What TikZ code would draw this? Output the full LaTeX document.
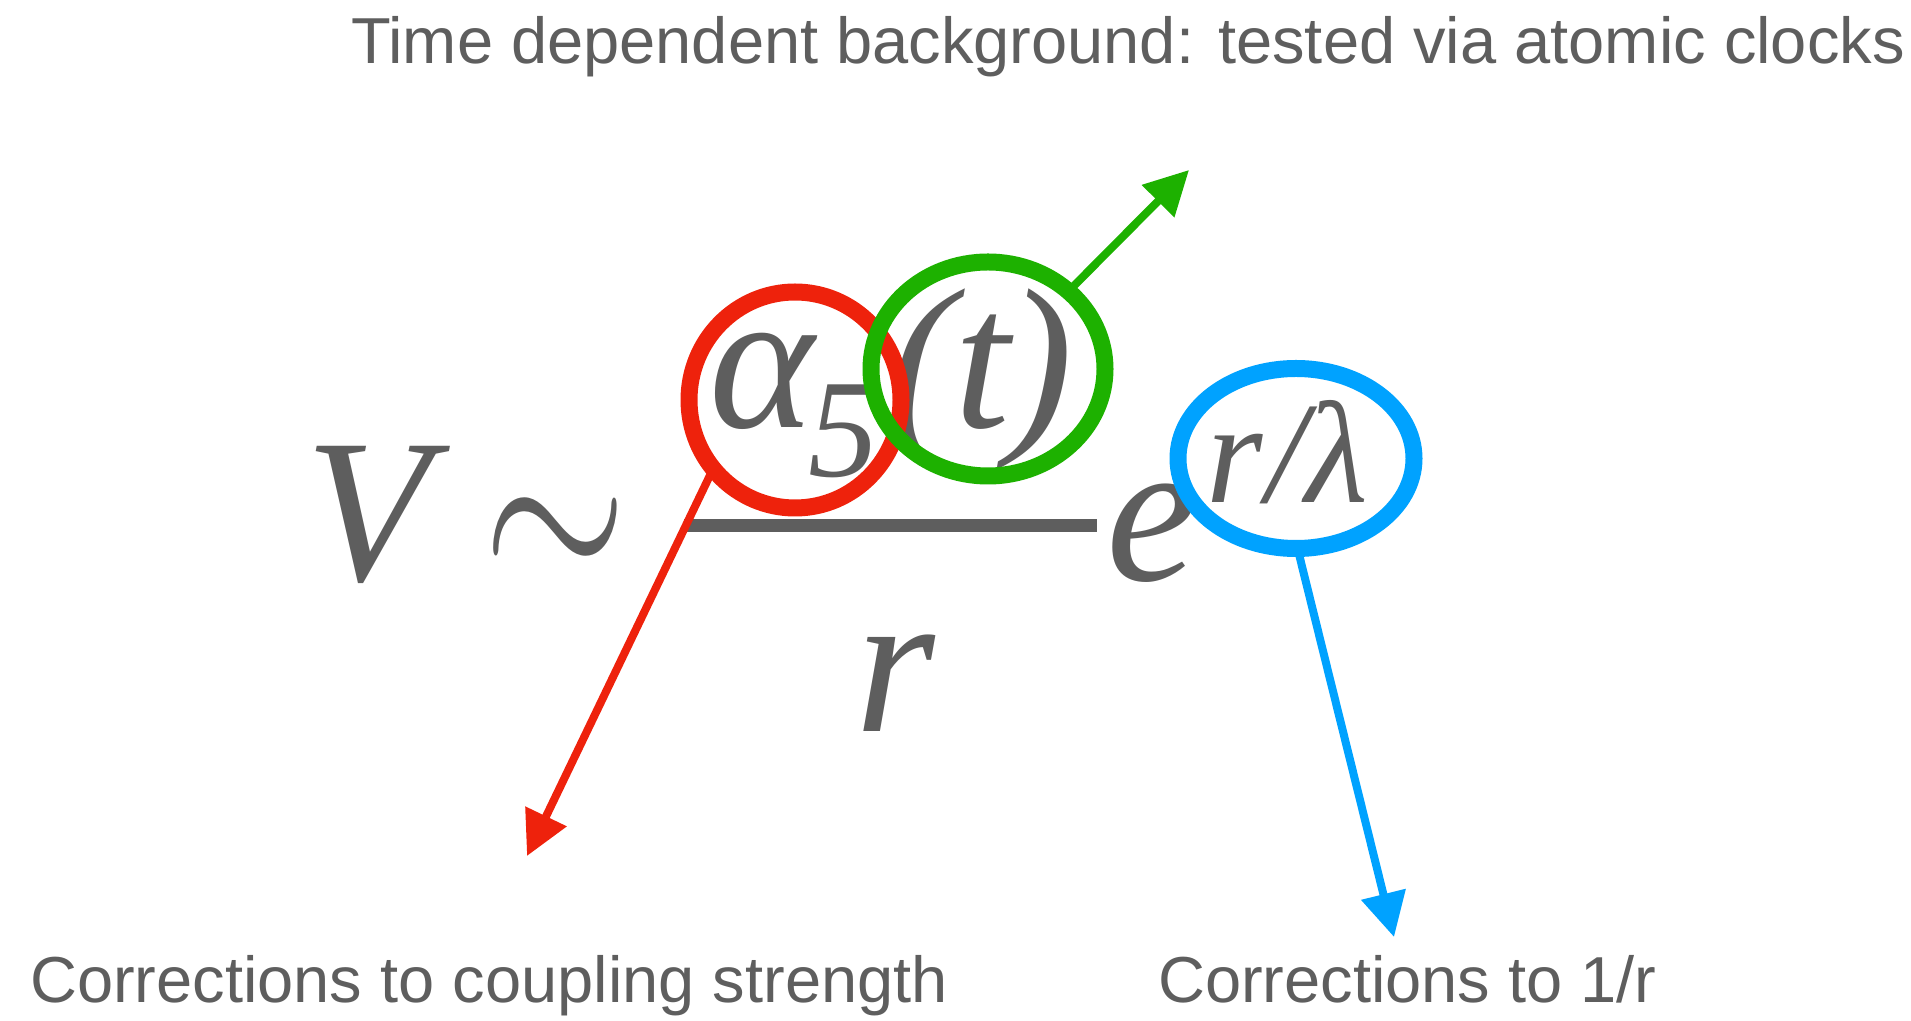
\documentclass[tikz,border=0pt]{standalone}
\usepackage{fontspec}
\usepackage{graphicx}
\setmainfont{Liberation Serif}
\newfontfamily\labelfont{Liberation Sans}
\usetikzlibrary{arrows.meta,shapes.geometric}
\definecolor{ink}{HTML}{5E5E5E}
\definecolor{ringred}{HTML}{EE220C}
\definecolor{ringgreen}{HTML}{1DB100}
\definecolor{ringblue}{HTML}{00A2FF}
\tikzset{
  glyph/.style={text=ink, inner sep=0pt, anchor=base, font=\itshape\fontsize{#1}{#1}\selectfont},
  caption/.style={text=ink, inner sep=0pt, anchor=base west, font=\labelfont\fontsize{65}{65}\selectfont},
  pointer/.style={draw=#1, line width=8pt, -{Triangle[length=44pt, width=44pt]}},
  hoop/.style={ellipse, inner sep=0pt, outer sep=0pt},
}
\begin{document}
\begin{tikzpicture}[x=1pt,y=1pt]
\useasboundingbox (0,0) rectangle (1911,1020);
% captions
\node[caption] (top) at (351,956) {Time dependent background: tested via atomic clocks};
\node[caption] (left) at (30,18) {Corrections to coupling strength};
\node[caption] (right) at (1158,18) {Corrections to 1/r};
% formula
\node[glyph=205] (V) at (368,439) {V};
\node[text=ink, inner sep=0pt] (sim) at (555.5,476) {\scalebox{18.5}[25]{$\sim$}};
\node[glyph=200] (alpha) at (762,592) {α};
\node[glyph=140] (five) at (843,543) {5};
\node[glyph=200] (lp) at (922,592) {(};
\node[glyph=200] (t) at (982,592) {t};
\node[glyph=200] (rp) at (1040,592) {)};
\coordinate (barL) at (684,494);
\coordinate (barR) at (1097,494);
\draw[ink, line width=13pt] (barL) -- (barR);
\node[glyph=205] (r) at (895,288) {r};
\node[glyph=205] (e) at (1152,439) {e};
\node[glyph=145] (er) at (1235,517) {r};
\node[glyph=145] (slash) at (1287,517) {/};
\node[glyph=145] (lambda) at (1337,517) {λ};
% arrows
\coordinate (redtip) at (527,164);
\coordinate (greentip) at (1189,850);
\coordinate (bluetip) at (1394,83);
\node[hoop, minimum width=212pt, minimum height=216pt] (redring) at (795,620) {};
\node[hoop, minimum width=234pt, minimum height=214pt] (greenring) at (988,651) {};
\node[hoop, minimum width=236pt, minimum height=180pt] (bluering) at (1296,561.5) {};
\draw[pointer=ringred] (redring.220) -- (redtip);
\draw[pointer=ringgreen] (greenring.44) -- (greentip);
\draw[pointer=ringblue] (bluering.271) -- (bluetip);
% rings
\draw[ringred, line width=17pt] (redring.center) ellipse[x radius=106, y radius=108];
\draw[ringgreen, line width=17pt] (greenring.center) ellipse[x radius=117, y radius=107];
\draw[ringblue, line width=17pt] (bluering.center) ellipse[x radius=118, y radius=90];
\end{tikzpicture}
\end{document}
